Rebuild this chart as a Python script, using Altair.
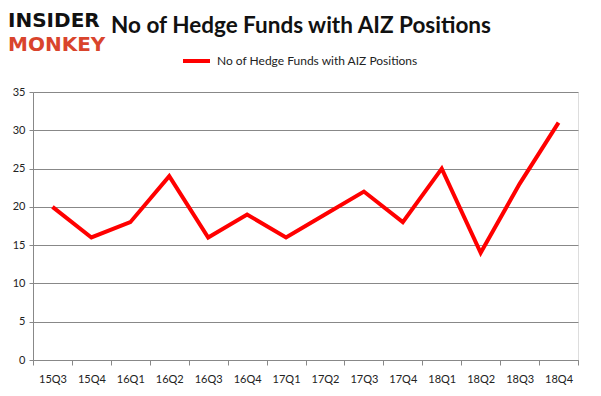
import altair as alt
import pandas as pd

quarters = ["15Q3", "15Q4", "16Q1", "16Q2", "16Q3", "16Q4", "17Q1", "17Q2",
            "17Q3", "17Q4", "18Q1", "18Q2", "18Q3", "18Q4"]
funds = [20, 16, 18, 24, 16, 19, 16, 19, 22, 18, 25, 14, 23, 31]
series_name = "No of Hedge Funds with AIZ Positions"
title_text = "No of Hedge Funds with AIZ Positions"

df = pd.DataFrame({"quarter": quarters, "funds": funds})
one = pd.DataFrame({"k": [0]})

W, H = 545, 268
FONT = "Lato"

x = alt.X("quarter:N", sort=quarters, title=None,
          scale=alt.Scale(type="band", paddingInner=0, paddingOuter=0),
          axis=alt.Axis(tickBand="extent", labelAngle=0, labelFontSize=11,
                        labelColor="#222", labelFont=FONT, labelPadding=8,
                        domainColor="#888", tickColor="#888", tickSize=5,
                        grid=False))
y = alt.Y("funds:Q", title=None,
          scale=alt.Scale(domain=[0, 35], nice=False),
          axis=alt.Axis(values=[0, 5, 10, 15, 20, 25, 30, 35], labelFontSize=11,
                        labelColor="#222", labelFont=FONT, labelPadding=4,
                        domainColor="#888", tickColor="#888", tickSize=4,
                        gridColor="#888", gridWidth=1))

line = alt.Chart(df).mark_line(color="#ff0000", strokeWidth=4).encode(x=x, y=y)

title = alt.Chart(one).mark_text(text=title_text, fontSize=22.5, fontWeight="bold",
                                 font=FONT, align="center", baseline="middle",
                                 color="#111").encode(
    x=alt.value(268), y=alt.value(-66))

legend_line = alt.Chart(one).mark_rule(color="#ff0000", strokeWidth=4).encode(
    x=alt.value(150), x2=alt.value(177), y=alt.value(-31))
legend_text = alt.Chart(one).mark_text(text=series_name, fontSize=12, font=FONT,
                                       align="left", baseline="middle",
                                       color="#222").encode(
    x=alt.value(184), y=alt.value(-31))

logo1 = alt.Chart(one).mark_text(text="INSIDER", fontSize=20, fontWeight="bold",
                                 font="DejaVu Sans", align="left",
                                 baseline="alphabetic", color="#111").encode(
    x=alt.value(-25), y=alt.value(-65))
logo2 = alt.Chart(one).mark_text(text="MONKEY", fontSize=20, fontWeight="bold",
                                 font="DejaVu Sans", align="left",
                                 baseline="alphabetic", color="#d9442c").encode(
    x=alt.value(-25), y=alt.value(-41))

chart = alt.layer(line, title, legend_line, legend_text, logo1, logo2).properties(
    width=W, height=H,
    autosize=alt.AutoSizeParams(type="none"),
    padding={"left": 25, "top": 84, "right": 15, "bottom": 28},
).configure_view(stroke=None).configure(background="white")

chart.save("out.html", embed_options={"renderer": "svg", "actions": False})
